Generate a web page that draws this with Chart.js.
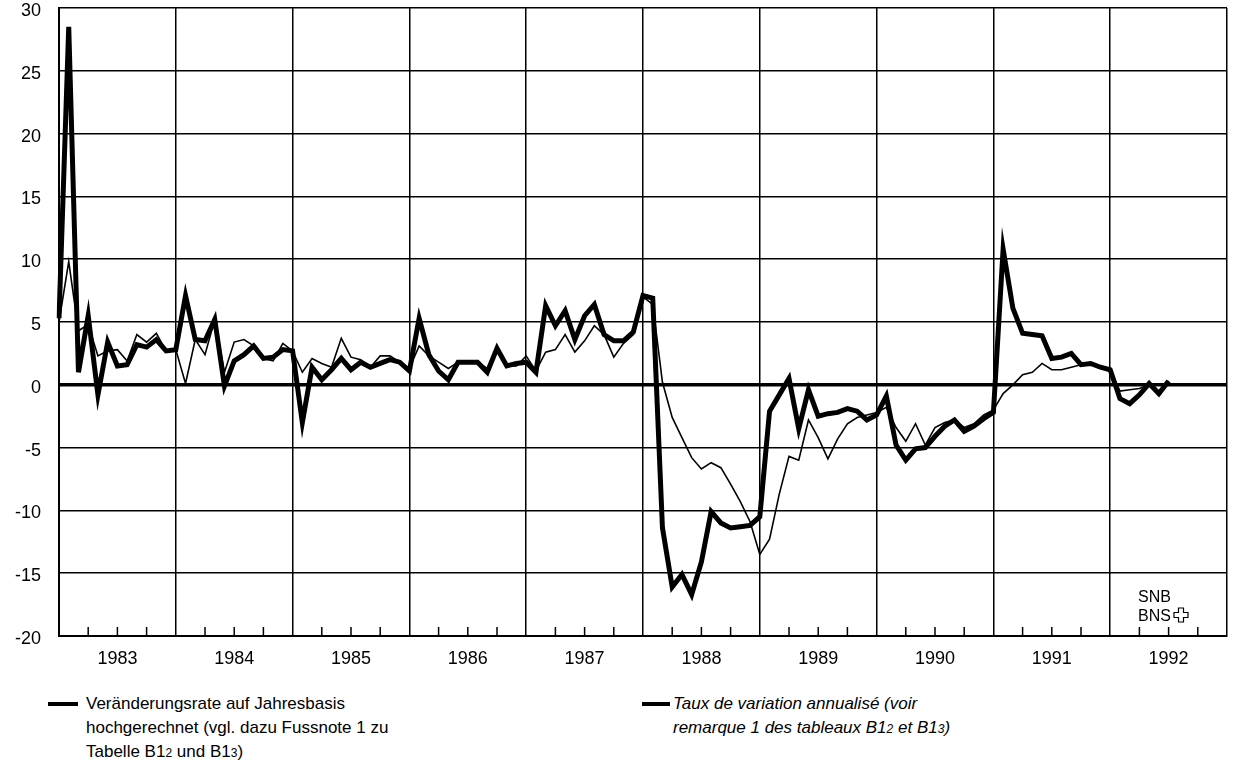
<!DOCTYPE html>
<html>
<head>
<meta charset="utf-8">
<script src="https://cdn.jsdelivr.net/npm/chart.js@4.4.1/dist/chart.umd.min.js"></script>
<style>
  body { margin: 0; background: #fff; width: 1235px; height: 767px; position: relative; overflow: hidden; font-family: "Liberation Sans", Arial, sans-serif; color: #000; }
  #wrap { position: absolute; left: 0; top: 0; width: 1235px; height: 680px; }
  .legend { position: absolute; font-size: 17px; line-height: 24px; }
  .legend .mark { position: absolute; height: 4px; background: #000; top: 10px; }
  .legend .s { font-size: 12px; }
  .fr { font-style: italic; }
</style>
</head>
<body>
<div id="wrap"><canvas id="chart" width="1235" height="680"></canvas></div>

<div class="legend" style="left:86px; top:692px;">
  <span class="mark" style="left:-38px; width:30px;"></span>
  Veränderungsrate auf Jahresbasis<br>
  hochgerechnet (vgl. dazu Fussnote 1 zu<br>
  Tabelle B1<span class="s">2</span> und B1<span class="s">3</span>)
</div>
<div class="legend fr" style="left:673px; top:692px;">
  <span class="mark" style="left:-31px; width:28px;"></span>
  Taux de variation annualisé (voir<br>
  remarque 1 des tableaux B1<span class="s">2</span> et B1<span class="s">3</span>)
</div>

<script>
// years on the axis, one label per year (centred in July)
const years = [1983, 1984, 1985, 1986, 1987, 1988, 1989, 1990, 1991, 1992];

// monthly categories Jan 1983 .. Jan 1993
const months = [];
for (const y of years) {
    for (let m = 1; m <= 12; m++) months.push(y + '-' + String(m).padStart(2, '0'));
}
months.push('1993-01');

// annualised monthly rate (thick line), Jan 1983 .. Jul 1992
const annualised = [
    5.3, 28.5, 1.0, 5.5, -0.8, 3.4, 1.5, 1.6, 3.2, 3.0, 3.6, 2.7,
    2.8, 7.1, 3.6, 3.5, 5.2, -0.1, 1.9, 2.4, 3.1, 2.1, 2.2, 2.8,
    2.7, -3.0, 1.4, 0.4, 1.2, 2.1, 1.2, 1.8, 1.4, 1.7, 2.0, 1.8,
    1.1, 5.3, 2.4, 1.1, 0.4, 1.8, 1.8, 1.8, 1.0, 2.9, 1.5, 1.7,
    1.8, 1.0, 6.3, 4.7, 5.9, 3.6, 5.5, 6.4, 4.0, 3.5, 3.5, 4.2,
    7.1, 6.9, -11.4, -16.1, -15.1, -16.7, -14.1, -10.1, -11.0, -11.4, -11.3, -11.2,
    -10.5, -2.1, -0.8, 0.5, -3.5, -0.4, -2.5, -2.3, -2.2, -1.9, -2.1, -2.8,
    -2.4, -0.9, -4.8, -6.0, -5.1, -5.0, -4.1, -3.3, -2.8, -3.7, -3.3, -2.7,
    -2.2, 10.8, 6.1, 4.1, 4.0, 3.9, 2.1, 2.2, 2.5, 1.6, 1.7, 1.4,
    1.2, -1.1, -1.5, -0.8, 0.1, -0.7, 0.3
];

// rate against previous year (thin line)
const yearOnYear = [
    5.0, 9.8, 4.3, 4.8, 2.3, 2.7, 2.8, 1.9, 4.0, 3.4, 4.1, 2.7,
    2.8, 0.1, 3.6, 2.4, 5.2, 1.0, 3.4, 3.6, 3.1, 2.1, 1.9, 3.3,
    2.7, 1.0, 2.1, 1.7, 1.4, 3.7, 2.2, 2.0, 1.4, 2.3, 2.3, 1.8,
    1.3, 3.1, 2.3, 1.8, 1.3, 1.8, 1.8, 1.8, 1.3, 2.9, 1.5, 1.5,
    2.3, 1.1, 2.6, 2.8, 4.0, 2.6, 3.5, 4.7, 4.0, 2.2, 3.3, 4.0,
    7.0, 6.4, 0.2, -2.6, -4.2, -5.8, -6.7, -6.2, -6.6, -7.9, -9.3, -10.9,
    -13.5, -12.3, -8.7, -5.7, -6.0, -2.8, -4.2, -5.9, -4.3, -3.1, -2.6, -2.4,
    -2.2, -1.8, -3.4, -4.5, -3.1, -4.8, -3.4, -3.0, -2.8, -3.4, -3.1, -2.4,
    -2.0, -0.7, 0.0, 0.8, 1.0, 1.7, 1.2, 1.2, 1.4, 1.6, 1.7, 1.4,
    1.2, -0.5, -0.4, -0.3, 0.0, -0.5, 0.3
];

// quarter ticks on the inside of the bottom axis + SNB/BNS mark
const extrasPlugin = {
    id: 'extras',
    afterDraw(chart) {
        const ctx = chart.ctx;
        const xs = chart.scales.x;
        const area = chart.chartArea;
        ctx.save();
        ctx.strokeStyle = '#000';
        ctx.lineWidth = 1.5;
        for (let i = 3; i < months.length - 1; i += 3) {
            if (i % 12 === 0) continue;
            const px = xs.getPixelForValue(i);
            ctx.beginPath();
            ctx.moveTo(px, area.bottom);
            ctx.lineTo(px, area.bottom - 9);
            ctx.stroke();
        }

        // logo
        ctx.fillStyle = '#000';
        ctx.font = '16px "Liberation Sans Narrow", "Liberation Sans", Arial, sans-serif';
        ctx.textBaseline = 'alphabetic';
        ctx.textAlign = 'left';
        const lx = area.right - 89;
        ctx.fillText('SNB', lx, area.bottom - 34);
        ctx.fillText('BNS', lx, area.bottom - 15);
        const cx = lx + 43, cy = area.bottom - 21, a = 2.5, b = 7;
        ctx.lineWidth = 1.2;
        ctx.beginPath();
        ctx.moveTo(cx - a, cy - b); ctx.lineTo(cx + a, cy - b); ctx.lineTo(cx + a, cy - a);
        ctx.lineTo(cx + b, cy - a); ctx.lineTo(cx + b, cy + a); ctx.lineTo(cx + a, cy + a);
        ctx.lineTo(cx + a, cy + b); ctx.lineTo(cx - a, cy + b); ctx.lineTo(cx - a, cy + a);
        ctx.lineTo(cx - b, cy + a); ctx.lineTo(cx - b, cy - a); ctx.lineTo(cx - a, cy - a);
        ctx.closePath();
        ctx.stroke();
        ctx.restore();
    }
};

const ctx = document.getElementById('chart').getContext('2d');
new Chart(ctx, {
    type: 'line',
    data: {
        labels: months,
        datasets: [{
            label: 'Veränderungsrate gegenüber Vorjahr',
            data: yearOnYear,
            borderColor: '#000',
            borderWidth: 1.6,
            pointRadius: 0,
            tension: 0
        }, {
            label: 'Veränderungsrate auf Jahresbasis hochgerechnet',
            data: annualised,
            borderColor: '#000',
            borderWidth: 5,
            pointRadius: 0,
            tension: 0,
            borderJoinStyle: 'miter'
        }]
    },
    options: {
        responsive: false,
        animation: false,
        layout: { padding: { top: 8, right: 8, left: 0, bottom: 0 } },
        plugins: {
            legend: { display: false },
            tooltip: { enabled: false }
        },
        scales: {
            x: {
                type: 'category',
                offset: false,
                grid: {
                    drawTicks: false,
                    color: (c) => (c.index % 12 === 0 ? '#000' : 'rgba(0,0,0,0)'),
                    lineWidth: 1.5
                },
                border: { display: true, color: '#000', width: 2 },
                ticks: {
                    autoSkip: false,
                    maxRotation: 0,
                    padding: 12,
                    color: '#000',
                    font: { family: '"Liberation Sans Narrow", "Liberation Sans", Arial, sans-serif', size: 18 },
                    callback: function(value, index) {
                        return index % 12 === 6 ? String(years[Math.floor(index / 12)]) : '';
                    }
                },
                afterFit: (scale) => {
                    scale.height = 44;
                    scale.paddingLeft = 0;
                    scale.paddingRight = 0;
                }
            },
            y: {
                min: -20,
                max: 30,
                ticks: {
                    stepSize: 5,
                    padding: 18,
                    labelOffset: 3,
                    color: '#000',
                    font: { family: '"Liberation Sans", Arial, sans-serif', size: 18 }
                },
                grid: {
                    drawTicks: false,
                    color: '#000',
                    lineWidth: (c) => (c.tick && c.tick.value === 0 ? 3.5 : 1.5)
                },
                border: { display: true, color: '#000', width: 2 },
                afterFit: (scale) => {
                    scale.width = 59;
                    scale.paddingTop = 0;
                    scale.paddingBottom = 0;
                }
            }
        }
    },
    plugins: [extrasPlugin]
});
</script>
</body>
</html>
